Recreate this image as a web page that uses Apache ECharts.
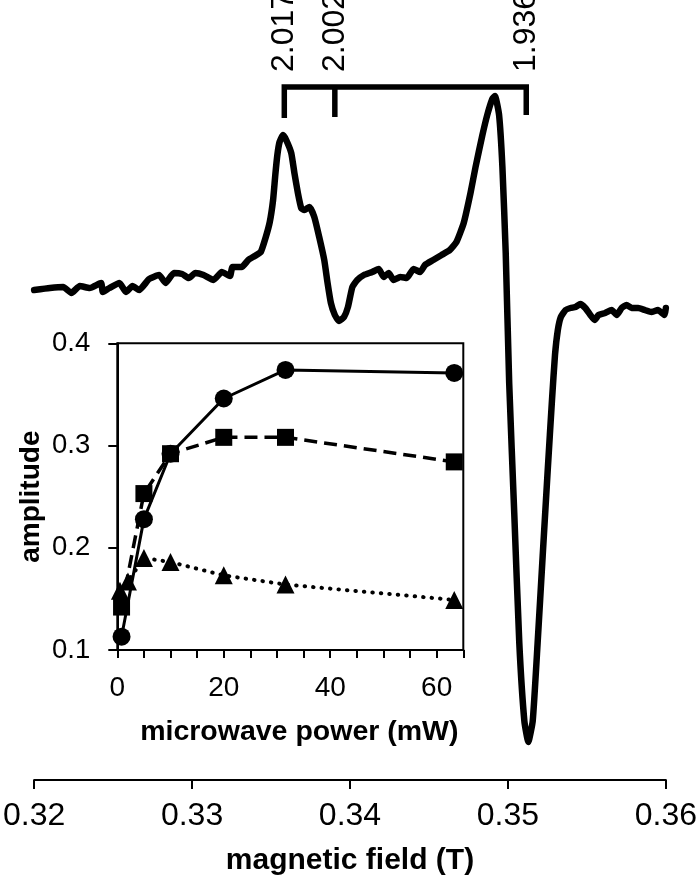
<!DOCTYPE html>
<html>
<head>
<meta charset="utf-8">
<script src="https://cdn.jsdelivr.net/npm/echarts@6/dist/echarts.min.js"></script>
<style>
html,body{margin:0;padding:0;background:#fff;}
#c{width:700px;height:883px;}
</style>
</head>
<body>
<div id="c"></div>
<script>
// ---- main EPR spectrum: magnetic field (T) vs. signal (arb. units) ----
const fieldT = [0.32000,0.32100,0.32184,0.32236,0.32289,0.32352,0.32424,0.32435,0.32477,0.32540,0.32581,0.32623,0.32665,0.32728,0.32791,0.32832,0.32885,0.32937,0.32979,0.33021,0.33073,0.33136,0.33188,0.33240,0.33256,0.33314,0.33356,0.33397,0.33435,0.33465,0.33492,0.33513,0.33527,0.33540,0.33554,0.33576,0.33596,0.33628,0.33648,0.33670,0.33691,0.33711,0.33743,0.33774,0.33805,0.33837,0.33858,0.33879,0.33904,0.33931,0.33962,0.33987,0.34015,0.34046,0.34088,0.34141,0.34182,0.34213,0.34245,0.34276,0.34318,0.34360,0.34402,0.34444,0.34475,0.34527,0.34580,0.34632,0.34674,0.34720,0.34763,0.34795,0.34837,0.34869,0.34901,0.34918,0.34944,0.34965,0.34986,0.35008,0.35040,0.35072,0.35104,0.35129,0.35157,0.35188,0.35220,0.35252,0.35279,0.35298,0.35316,0.35335,0.35365,0.35396,0.35428,0.35459,0.35490,0.35522,0.35549,0.35574,0.35616,0.35657,0.35689,0.35720,0.35751,0.35783,0.35825,0.35867,0.35908,0.35950,0.35992,0.36000];
const signal = [0.00,0.02,0.03,-0.03,0.04,0.02,0.07,-0.02,0.02,0.07,-0.02,0.04,0.00,0.11,0.15,0.07,0.17,0.16,0.12,0.17,0.15,0.10,0.18,0.14,0.23,0.23,0.30,0.34,0.38,0.52,0.68,0.90,1.15,1.35,1.48,1.55,1.50,1.37,1.17,0.97,0.82,0.80,0.83,0.73,0.53,0.30,0.07,-0.13,-0.25,-0.31,-0.27,-0.17,0.03,0.10,0.15,0.18,0.21,0.13,0.17,0.10,0.13,0.12,0.21,0.18,0.25,0.30,0.35,0.40,0.48,0.67,0.97,1.23,1.54,1.75,1.91,1.94,1.75,1.23,0.37,-0.93,-2.23,-3.53,-4.31,-4.52,-4.31,-3.53,-2.66,-1.80,-1.10,-0.65,-0.40,-0.27,-0.20,-0.18,-0.17,-0.14,-0.18,-0.25,-0.30,-0.25,-0.23,-0.20,-0.25,-0.18,-0.15,-0.18,-0.18,-0.20,-0.22,-0.20,-0.25,-0.18];
const fieldTicks = [0.32, 0.33, 0.34, 0.35, 0.36];

// g-value markers
const gLabels = ['2.017', '2.002', '1.936'];
const gField = [0.33584, 0.33904, 0.35116];
const bracketTop = 2.03;
const bracketFoot = [1.72, 1.73, 1.75];
const gLabelBase = 2.18;

// ---- inset: amplitude vs microwave power ----
const powerCircle = [0.8, 5, 10, 20, 31.6, 63.3];
const ampCircle   = [0.113, 0.228, 0.292, 0.346, 0.374, 0.371];
const powerSquare = [0.8, 5, 10, 20, 31.6, 63.3];
const ampSquare   = [0.142, 0.253, 0.292, 0.308, 0.308, 0.284];
const powerTri    = [0.5, 2, 5, 10, 20, 31.6, 63.3];
const ampTri      = [0.158, 0.167, 0.190, 0.186, 0.173, 0.164, 0.149];
const ampTicks = [0.1, 0.2, 0.3, 0.4];
const powerLabelTicks = [0, 20, 40, 60];

const FONT = 'Liberation Sans, Arial, sans-serif';
const zip = (a, b) => a.map((v, i) => [v, b[i]]);

const chart = echarts.init(document.getElementById('c'), null, {renderer: 'canvas'});

const bracketMain = [
  [gField[0], bracketFoot[0]], [gField[0], bracketTop],
  [gField[2], bracketTop], [gField[2], bracketFoot[2]]
];
const bracketMid = [[gField[1], bracketTop], [gField[1], bracketFoot[1]]];

const option = {
  animation: false,
  backgroundColor: '#fff',
  grid: [
    {left: 30.7, top: 60, width: 637.2, height: 720, show: false},
    {left: 117.3, top: 343.3, width: 346, height: 306.7, show: true,
     borderColor: '#000', borderWidth: 2, backgroundColor: '#fff', z: 5}
  ],
  xAxis: [
    {
      type: 'value', gridIndex: 0, min: fieldTicks[0], max: fieldTicks[fieldTicks.length - 1],
      interval: 0.01,
      axisLine: {show: true, onZero: false, lineStyle: {color: '#000', width: 2}},
      axisTick: {show: true, length: 9, lineStyle: {color: '#000', width: 2}},
      axisLabel: {color: '#000', fontFamily: FONT, fontSize: 32, margin: 20,
                  formatter: v => v.toFixed(2)},
      splitLine: {show: false},
      name: 'magnetic field (T)', nameLocation: 'middle', nameGap: 66,
      nameTextStyle: {color: '#000', fontFamily: FONT, fontSize: 30, fontWeight: 'bold'}
    },
    {
      type: 'value', gridIndex: 1, min: 0, max: 65, interval: 5,
      axisLine: {show: true, onZero: false, lineStyle: {color: '#000', width: 2}},
      axisTick: {show: true, length: 8, lineStyle: {color: '#000', width: 2}},
      axisLabel: {color: '#000', fontFamily: FONT, fontSize: 28, margin: 24,
                  formatter: v => powerLabelTicks.indexOf(Math.round(v)) >= 0 && Math.abs(v - Math.round(v)) < 1e-6 ? String(Math.round(v)) : ''},
      splitLine: {show: false},
      name: 'microwave power (mW)', nameLocation: 'middle', nameGap: 68,
      nameTextStyle: {color: '#000', fontFamily: FONT, fontSize: 28.5, fontWeight: 'bold',
                      padding: [0, 0, 0, 18]},
      z: 6
    }
  ],
  yAxis: [
    {type: 'value', gridIndex: 0, min: -4.9, max: 2.3, show: false},
    {
      type: 'value', gridIndex: 1, min: ampTicks[0], max: ampTicks[ampTicks.length - 1], interval: 0.1,
      axisLine: {show: true, onZero: false, lineStyle: {color: '#000', width: 2}},
      axisTick: {show: true, length: 9, lineStyle: {color: '#000', width: 2}},
      axisLabel: {color: '#000', fontFamily: FONT, fontSize: 27.5, margin: 27,
                  formatter: v => v.toFixed(1)},
      splitLine: {show: false},
      name: 'amplitude', nameLocation: 'middle', nameGap: 72,
      nameTextStyle: {color: '#000', fontFamily: FONT, fontSize: 28, fontWeight: 'bold'},
      z: 6
    }
  ],
  series: [
    {
      type: 'line', xAxisIndex: 0, yAxisIndex: 0, data: zip(fieldT, signal),
      showSymbol: false, symbol: 'none', smooth: 0.15,
      lineStyle: {color: '#000', width: 6.5, cap: 'round', join: 'round'}, z: 2
    },
    {
      type: 'line', xAxisIndex: 0, yAxisIndex: 0, data: bracketMain,
      symbol: 'none', lineStyle: {color: '#000', width: 5.5, join: 'miter'}, z: 2
    },
    {
      type: 'line', xAxisIndex: 0, yAxisIndex: 0, data: bracketMid,
      symbol: 'none', lineStyle: {color: '#000', width: 5.5}, z: 2
    },
    {
      type: 'line', xAxisIndex: 1, yAxisIndex: 1, data: zip(powerTri, ampTri),
      symbol: 'triangle', symbolSize: 18, itemStyle: {color: '#000'},
      lineStyle: {color: '#000', width: 4, type: [0.5, 8], cap: 'round'}, z: 10
    },
    {
      type: 'line', xAxisIndex: 1, yAxisIndex: 1, data: zip(powerSquare, ampSquare),
      symbol: 'rect', symbolSize: 17, itemStyle: {color: '#000'},
      lineStyle: {color: '#000', width: 3.5, type: [13, 7]}, z: 11
    },
    {
      type: 'line', xAxisIndex: 1, yAxisIndex: 1, data: zip(powerCircle, ampCircle),
      symbol: 'circle', symbolSize: 18, itemStyle: {color: '#000'},
      lineStyle: {color: '#000', width: 3}, z: 12
    }
  ]
};
chart.setOption(option);

// rotated g-value labels placed through the main grid's scales
const gGraphics = gLabels.map((t, i) => {
  const p = chart.convertToPixel({gridIndex: 0}, [gField[i], gLabelBase]);
  return {
    type: 'text', x: p[0], y: p[1], rotation: Math.PI / 2, z: 20,
    style: {text: t, fill: '#000', font: '32px ' + FONT, align: 'left', verticalAlign: 'middle'}
  };
});
chart.setOption({graphic: gGraphics});
</script>
</body>
</html>
